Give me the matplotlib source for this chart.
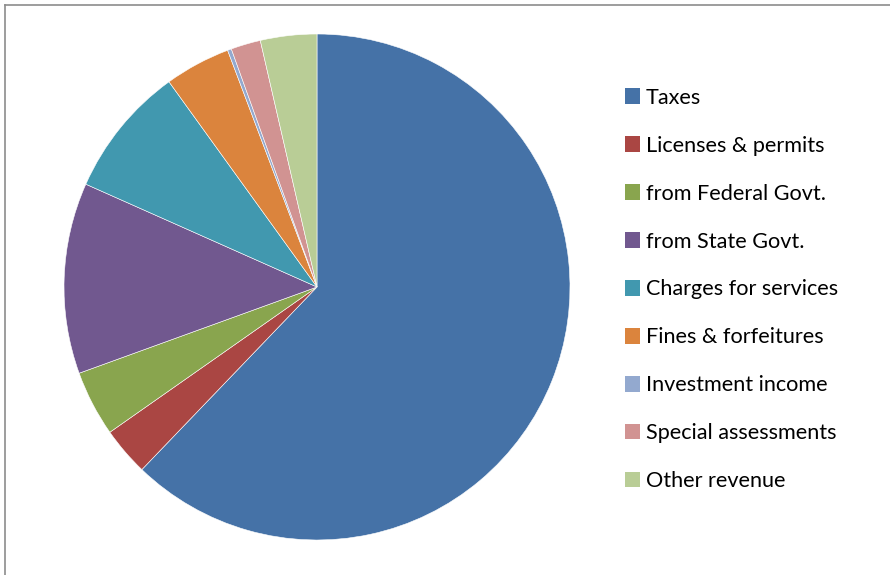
import matplotlib.pyplot as plt
from matplotlib.patches import Patch
from matplotlib.lines import Line2D

plt.rcParams['font.family'] = ['Lato', 'DejaVu Sans']

# revenue sources and approximate shares (%)
sources = ['Taxes', 'Licenses & permits', 'from Federal Govt.', 'from State Govt.',
           'Charges for services', 'Fines & forfeitures', 'Investment income',
           'Special assessments', 'Other revenue']
shares = [62.2, 3.1, 4.2, 12.2, 8.4, 4.2, 0.25, 1.9, 3.6]
colors = ['#4572A7', '#AA4643', '#89A54E', '#71588F', '#4198AF',
          '#DB843D', '#93A9CF', '#D19392', '#B9CD96']

W, H = 890, 575
fig = plt.figure(figsize=(W / 100, H / 100), dpi=100)

cx, cy, r = 317, 287, 253
ax = fig.add_axes([(cx - r) / W, (H - cy - r) / H, 2 * r / W, 2 * r / H])
ax.pie(shares, colors=colors, startangle=90, counterclock=False, radius=1,
       wedgeprops=dict(linewidth=0.4, edgecolor='white'))
ax.set_xlim(-1, 1)
ax.set_ylim(-1, 1)
ax.set_aspect('equal')
ax.axis('off')

handles = [Patch(facecolor=c, edgecolor='none') for c in colors]
fig.legend(handles, sources, loc='upper left', bbox_to_anchor=(616 / W, 1 - 79 / H),
           frameon=False, fontsize=15.6, handlelength=0.72, handleheight=0.72,
           handletextpad=0.25, labelspacing=1.29, borderaxespad=0)

# chart frame (left and top edges visible)
fig.add_artist(Line2D([5 / W, 5 / W], [0, 1 - 5 / H], color='#8c8c8c', lw=1.2))
fig.add_artist(Line2D([5 / W, 1], [1 - 5 / H, 1 - 5 / H], color='#8c8c8c', lw=1.2))

fig.savefig('out.png', dpi=100)
